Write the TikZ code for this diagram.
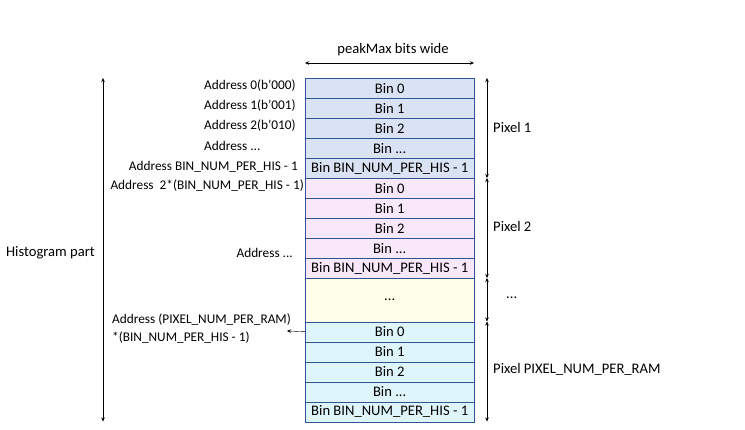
\documentclass[tikz,border=0pt]{standalone}
\usepackage{fontspec}
\setmainfont{Carlito}
\usepackage{tikz}
\usetikzlibrary{arrows.meta,positioning,calc}

\definecolor{pixa}{HTML}{DAE3F3}
\definecolor{pixb}{HTML}{F9E8FA}
\definecolor{pixc}{HTML}{FFFEE8}
\definecolor{pixd}{HTML}{DEF5FB}
\definecolor{binline}{HTML}{2F5597}
\newcommand{\mydots}{...}

\tikzset{
    binbox/.style={draw=binline, thin, minimum width=169pt, minimum height=20pt,
        inner sep=0pt, anchor=north west, font=\fontsize{14.6}{17}\selectfont},
    lab/.style={inner sep=0pt, font=\fontsize{14.6}{17}\selectfont},
    addr/.style={inner sep=0pt, font=\fontsize{13.3}{18}\selectfont},
    dimarrow/.style={{Stealth[length=4pt,width=3.5pt]}-{Stealth[length=4pt,width=3.5pt]}, thin},
}

\begin{document}
\begin{tikzpicture}[x=1pt,y=-1pt]
            \useasboundingbox (0,0) rectangle (745,429);
            % memory rows
            \foreach \i/\t in {0/{Bin 0},1/{Bin 1},2/{Bin 2},3/{Bin \mydots},4/{Bin BIN\_NUM\_PER\_HIS - 1}} {
                \node[binbox, fill=pixa] (pa-\i) at (305,78+\i*20) {\t};
                \node[binbox, fill=pixb] (pb-\i) at (305,178+\i*20) {\t};
                \node[binbox, fill=pixd] (pd-\i) at (305,321.5+\i*20) {\t};
            }
            \node[binbox, fill=pixc, minimum height=43.5pt] (pc) at (305,278) {\mydots};

            % width
            \coordinate (wl) at (305,63);
            \coordinate (wr) at (474,63);
            \draw[dimarrow] (wl) -- (wr);
            \node[lab] (wlab) at (393,50) {peakMax bits wide};

            % histogram part
            \coordinate (ht) at (103,78);
            \coordinate (hb) at (103,421.5);
            \draw[dimarrow] (ht) -- (hb);
            \node[lab, anchor=east] (hlab) at (95,253) {Histogram part};

            % pixels
            \foreach \n/\y in {a/78,b/178,c/278,d/321.5} {
                \coordinate (s-\n) at (487,\y);
            }
            \coordinate (s-e) at (487,421.5);
            \draw[dimarrow] (s-a) -- (s-b);
            \draw[dimarrow] (s-b) -- (s-c);
            \draw[dimarrow] (s-c) -- (s-d);
            \draw[dimarrow] (s-d) -- (s-e);
            \node[lab, anchor=west] (la) at (493,127) {Pixel 1};
            \node[lab, anchor=west] (lb) at (493,226) {Pixel 2};
            \node[lab, anchor=west] (lc) at (506,298) {\mydots};
            \node[lab, anchor=west] (ld) at (493,369) {Pixel PIXEL\_NUM\_PER\_RAM};

            % addresses
            \node[addr, anchor=west] (a0) at (204,86) {Address 0(b’000)};
            \node[addr, anchor=west] (a1) at (204,106) {Address 1(b’001)};
            \node[addr, anchor=west] (a2) at (204,126) {Address 2(b’010)};
            \node[addr, anchor=west] (a3) at (204,146) {Address \mydots};
            \node[addr, anchor=east] (a4) at (298,167) {Address BIN\_NUM\_PER\_HIS - 1};
            \node[addr, anchor=east] (b0) at (304,186) {Address\ \ 2*(BIN\_NUM\_PER\_HIS - 1)};
            \node[addr, anchor=east] (b3) at (293,253) {Address \mydots};
            \node[addr, anchor=north west, align=left] (d0) at (112,313.5) {Address (PIXEL\_NUM\_PER\_RAM)\\*(BIN\_NUM\_PER\_HIS - 1)};
            \coordinate (dp) at (287,331);
            \draw[-{Stealth[length=4pt,width=3.5pt]}, thin] (pd-0.west) -- (dp);
        \end{tikzpicture}
\end{document}
